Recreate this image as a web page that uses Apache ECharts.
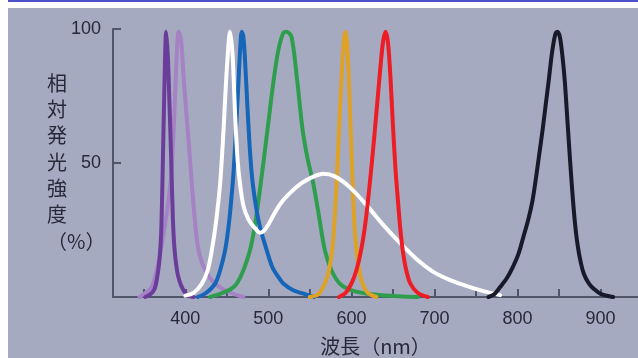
<!DOCTYPE html>
<html>
<head>
<meta charset="utf-8">
<script src="https://cdn.jsdelivr.net/npm/echarts@6/dist/echarts.min.js"></script>
<style>
html, body { margin: 0; padding: 0; background: #ffffff; }
#spectra { width: 638px; height: 358px; }
</style>
</head>
<body>
<div id="spectra"></div>
<script>
// [wavelength nm, relative intensity %]
var violetDark = [[352,0],[358,1],[363,3],[366,7],[369,14],[371,24],[373,50],[375,80],[377,99],[379,90],[381,72],[383,52],[385,30],[387,18],[390,10],[393,6],[397,3],[403,0.5],[410,0]];
var violetLight = [[345,0],[350,1],[360,4],[367,12],[372,20],[378,32],[383,45],[386,62],[389,85],[392,99],[395,96],[398,82],[402,66],[406,50],[410,34],[415,19],[421,12],[430,7],[440,4],[455,1.5],[470,0]];
var whiteLed = [[400,0.5],[410,1.5],[420,5],[427,10],[432,17.5],[437,28],[442,42.5],[446,62],[450,85],[454,99],[457,90],[460,68],[463,51],[466,42],[470,34],[476,29],[483,26],[490,24],[495,24.8],[500,27],[507,31],[515,35],[525,38.5],[540,42.5],[555,45],[566,46],[580,45],[598,41],[619,34],[638,27],[659,20],[679,14],[699,9.3],[719,6.3],[740,4],[759,2.2],[779,0.7]];
var blueLed = [[415,0],[425,1.5],[436,5],[442,10],[448,17.5],[452,26],[455,35],[458,46],[461,62],[464,80],[466,92],[468,99],[470,97],[472,88],[475,70],[478,54],[481,43],[485,34],[490,26],[498,17.5],[505,11],[512,7.5],[518,5],[530,2.5],[545,1],[555,0]];
var greenLed = [[430,0],[445,1.5],[455,3],[462,5],[470,10],[478,17.5],[484,27],[489,38],[494,50],[500,65],[506,80],[512,92],[518,98.5],[522,99],[528,97],[535,80],[541,63],[547,52],[554,42.5],[560,32],[568,17.5],[576,10],[586,5],[600,2.5],[620,1.2],[640,0.6],[680,0]];
var amberLed = [[550,0],[560,1],[568,5],[573,10],[577,18],[580,30],[583,48],[586,68],[589,87],[591,96],[592.5,99],[594,97],[596,88],[598,72],[600,55],[602,38],[604,25],[607,15],[610,9],[614,4.5],[620,1.5],[630,0]];
var redLed = [[585,0],[593,1.5],[600,5],[606,10],[612,18],[617,28],[622,42],[627,58],[631,72],[635,86],[638,95],[641,99],[644,95],[647,82],[650,64],[653,48],[656,36],[659,25],[662,17],[666,10],[671,5],[680,1.5],[692,0]];
var irLed = [[765,0],[772,1],[779,3.7],[787,7],[794,11],[801,16],[807,22.4],[813,29],[818,36],[822,44],[826,53],[830,62],[834,72],[838,82],[841,90],[844,96],[846,98.5],[848,99],[851,97],[854,90],[857,80],[860,66],[863,52],[866,39],[869,28],[872,20],[876,13],[880,8.5],[886,5],[892,3],[900,1.2],[915,0]];

var xTicks = [350,400,450,500,550,600,650,700,750,800,850,900];
var xLabels = [400,500,600,700,800,900];
var yTicks = [50,100];

var chartDom = document.getElementById('spectra');
var myChart = echarts.init(chartDom, null, {renderer: 'canvas'});
var option;

function curve(data, color) {
    return {
        type: 'line',
        data: data,
        showSymbol: false,
        smooth: 0.3,
        lineStyle: {color: color, width: 4, cap: 'round', join: 'round'}
    };
}

option = {
    animation: false,
    textStyle: {fontFamily: 'Liberation Sans'},
    graphic: [
        {type: 'rect', z: -10, shape: {x: 8, y: 8, width: 630, height: 350}, style: {fill: '#a6aac1'}},
        {type: 'rect', z: -10, shape: {x: 8, y: 0, width: 630, height: 2}, style: {fill: '#4b4fca'}},
        {
            type: 'text', left: 47, top: 70,
            style: {
                text: '相\n対\n発\n光\n強\n度\n（%）',
                font: '20px "Noto Sans CJK JP"',
                fill: '#262a38',
                lineHeight: 26.3,
                align: 'center'
            }
        }
    ],
    grid: {left: 113, top: 29, right: 0, bottom: 61, outerBoundsMode: 'none', containLabel: false},
    xAxis: {
        type: 'value',
        min: 313,
        max: 945,
        name: '波長（nm）',
        nameLocation: 'middle',
        nameGap: 39,
        nameTextStyle: {fontFamily: 'Noto Sans CJK JP', fontSize: 20, color: '#262a38'},
        axisLine: {lineStyle: {color: '#50566a', width: 2}},
        axisTick: {inside: true, length: 8, customValues: xTicks, lineStyle: {color: '#50566a', width: 2}},
        axisLabel: {customValues: xLabels, fontSize: 18, color: '#262a38', margin: 13},
        splitLine: {show: false}
    },
    yAxis: {
        type: 'value',
        min: 0,
        max: 100,
        axisLine: {show: true, lineStyle: {color: '#50566a', width: 2}},
        axisTick: {show: true, inside: true, length: 8, customValues: yTicks, lineStyle: {color: '#50566a', width: 2}},
        axisLabel: {customValues: yTicks, fontSize: 18, color: '#262a38', margin: 12},
        splitLine: {show: false}
    },
    series: [
        curve(violetLight, '#a582c4'),
        curve(violetDark, '#6b3d9a'),
        curve(greenLed, '#2e9e4e'),
        curve(blueLed, '#1565b8'),
        curve(amberLed, '#dea226'),
        curve(whiteLed, '#ffffff'),
        curve(redLed, '#ee1c25'),
        curve(irLed, '#181a2a')
    ]
};

option && myChart.setOption(option);
</script>
</body>
</html>
